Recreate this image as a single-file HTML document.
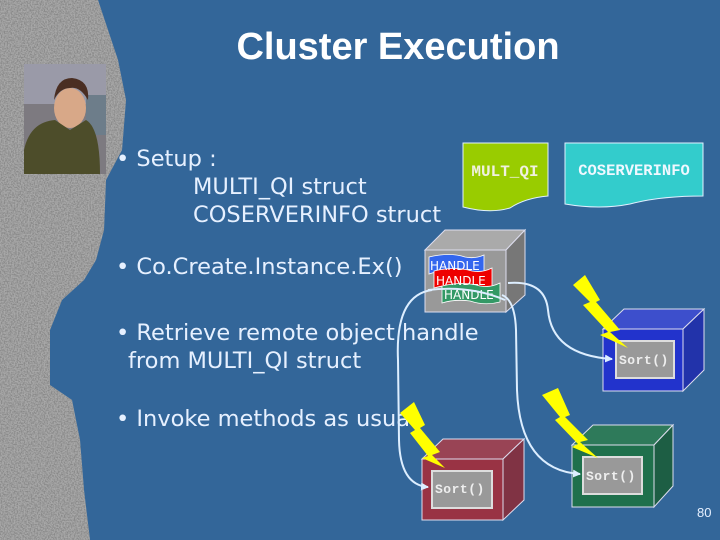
<!DOCTYPE html>
<html><head><style>
html,body{margin:0;padding:0;background:#336699;}
svg{display:block}
</style></head><body>
<svg width="720" height="540" viewBox="0 0 720 540" xmlns="http://www.w3.org/2000/svg">
<defs>
<filter id="gr" x="0" y="0" width="100%" height="100%">
<feTurbulence type="fractalNoise" baseFrequency="0.7" numOctaves="2" seed="3"/>
<feColorMatrix type="matrix" values="0 0 0 0 0.25  0 0 0 0 0.25  0 0 0 0 0.25  3 0 0 0 -1.1"/>
<feComposite in2="SourceGraphic" operator="in"/>
</filter>
<marker id="ar" markerWidth="8" markerHeight="8" refX="7" refY="4" orient="auto" markerUnits="userSpaceOnUse"><path d="M0,0 L8,4 L0,8z" fill="#ddeeff"/></marker>
</defs>
<rect width="720" height="540" fill="#336699"/>
<!-- stone -->
<path d="M0,0 L98,0 L108,30 L118,60 L126,100 L122,150 L106,180 L104,230 L96,260 L84,280 L62,300 L50,330 L50,385 L72,400 L80,440 L84,490 L90,540 L0,540z" fill="#a8a8a8"/>
<path d="M0,0 L98,0 L108,30 L118,60 L126,100 L122,150 L106,180 L104,230 L96,260 L84,280 L62,300 L50,330 L50,385 L72,400 L80,440 L84,490 L90,540 L0,540z" fill="#aaa" filter="url(#gr)"/>
<!-- photo -->
<rect x="24" y="64" width="82" height="110" fill="#7d7a80"/>
<rect x="24" y="64" width="82" height="40" fill="#9a9aa8"/>
<rect x="86" y="95" width="20" height="40" fill="#6d7d8a"/>
<ellipse cx="70" cy="108" rx="16" ry="20" fill="#d8a888"/>
<path d="M54,100 Q56,78 72,78 Q90,80 88,100 Q80,86 70,88 Q60,88 54,100z" fill="#4a2e22"/>
<path d="M24,150 Q30,122 55,120 L70,130 L86,120 Q100,128 100,174 L24,174z" fill="#4d4d2a"/>
<!-- title -->
<text x="398" y="59" font-family="Liberation Sans, sans-serif" font-weight="bold" font-size="38" fill="#ffffff" text-anchor="middle">Cluster Execution</text>
<g font-family="DejaVu Sans, Liberation Sans, sans-serif" font-size="22.5" fill="#e6f0ff">
<text x="116" y="166">• Setup :</text>
<text x="193" y="194">MULTI_QI struct</text>
<text x="193" y="222">COSERVERINFO struct</text>
<text x="116" y="274">• Co.Create.Instance.Ex()</text>
<text x="116" y="340">• Retrieve remote object handle</text>
<text x="128" y="368">from MULTI_QI struct</text>
<text x="116" y="426">• Invoke methods as usual</text>
</g>
<text x="697" y="517" font-family="Liberation Sans, sans-serif" font-size="13" fill="#e6f0ff">80</text>
<!-- MULT_QI / COSERVERINFO -->
<path d="M463,143 L548,143 L548,196 Q525,198 510,208 Q490,214 463,207z" fill="#99cc00" stroke="#e0f0ff" stroke-width="1"/>
<text x="505" y="176" font-family="Liberation Mono, monospace" font-size="16" font-weight="bold" fill="#f0f0e0" text-anchor="middle">MULT_QI</text>
<path d="M565,143 L703,143 L703,196 Q660,196 630,204 Q600,210 565,204z" fill="#33cccc" stroke="#e0f0ff" stroke-width="1"/>
<text x="634" y="175" font-family="Liberation Mono, monospace" font-size="15.5" font-weight="bold" fill="#f0f8ff" text-anchor="middle">COSERVERINFO</text>
<!-- gray box -->
<g stroke="#dde" stroke-width="1">
<path d="M425,250 L445,230 L525,230 L506,250z" fill="#aaa"/>
<path d="M506,250 L525,230 L525,295 L506,312z" fill="#777"/>
<rect x="425" y="250" width="81" height="62" fill="#999"/>
</g>
<path d="M429,257 Q450,252 465,257 Q475,259 484,255 L484,273 Q470,277 455,272 Q440,270 429,274z" fill="#3366ee" stroke="#fff" stroke-width="0.8"/>
<path d="M434,271 Q455,266 472,271 Q482,273 492,268 L492,287 Q477,291 462,286 Q447,284 434,288z" fill="#ee0000" stroke="#fff" stroke-width="0.8"/>
<path d="M442,286 Q463,281 480,286 Q490,288 500,283 L500,302 Q485,306 470,301 Q455,299 442,303z" fill="#339966" stroke="#fff" stroke-width="0.8"/>
<g font-family="DejaVu Sans, sans-serif" font-size="12" fill="#fff">
<text x="430" y="270">HANDLE</text><text x="436" y="285">HANDLE</text><text x="444" y="299">HANDLE</text>
</g>
<!-- blue box -->
<g stroke="#dde" stroke-width="1">
<path d="M603,329 L624,309 L704,309 L683,329z" fill="#3d4fcc"/>
<path d="M683,329 L704,309 L704,370 L683,391z" fill="#2233aa"/>
<rect x="603" y="329" width="80" height="62" fill="#2233cc"/>
<rect x="616" y="341" width="58" height="37" fill="#999" stroke="#ddd" stroke-width="2"/>
</g>
<!-- green box -->
<g stroke="#dde" stroke-width="1">
<path d="M572,445 L593,425 L673,425 L654,445z" fill="#2e7a5a"/>
<path d="M654,445 L673,425 L673,486 L654,507z" fill="#1d5e44"/>
<rect x="572" y="445" width="82" height="62" fill="#1f704c"/>
<rect x="583" y="457" width="59" height="37" fill="#999" stroke="#ddd" stroke-width="2"/>
</g>
<!-- red box -->
<g stroke="#dde" stroke-width="1">
<path d="M422,459 L443,439 L524,439 L503,459z" fill="#994455"/>
<path d="M503,459 L524,439 L524,500 L503,520z" fill="#803344"/>
<rect x="422" y="459" width="81" height="61" fill="#993344"/>
<rect x="432" y="471" width="60" height="37" fill="#999" stroke="#ddd" stroke-width="2"/>
</g>
<g font-family="Liberation Mono, monospace" font-size="13" fill="#eee" font-weight="bold" letter-spacing="0.5">
<text x="619" y="364">Sort()</text><text x="586" y="480">Sort()</text><text x="435" y="493">Sort()</text>
</g>
<!-- curves -->
<g fill="none" stroke="#ddeeff" stroke-width="2">
<path d="M508,283 Q545,280 548,310 Q552,355 612,359" marker-end="url(#ar)"/>
<path d="M502,295 Q515,300 516,330 L517,390 Q520,470 580,474" marker-end="url(#ar)"/>
<path d="M432,290 Q395,295 398,360 L399,440 Q400,485 428,487" marker-end="url(#ar)"/>
<path d="M428,290 Q470,285 505,300"/>
</g>
<!-- lightning -->
<g fill="#ffff00">
<path d="M573,285 L585,275 L600,300 L596,302 L620,330 L610,332 L628,348 L600,335 L608,332 L583,305 L590,302z"/>
<path d="M542,395 L558,388 L570,415 L565,417 L588,440 L580,442 L598,458 L572,447 L578,444 L555,420 L560,417z"/>
<path d="M400,413 L414,402 L425,425 L420,428 L440,452 L432,455 L445,468 L422,458 L428,456 L410,433 L415,430z"/>
</g>
</svg>
</body></html>
